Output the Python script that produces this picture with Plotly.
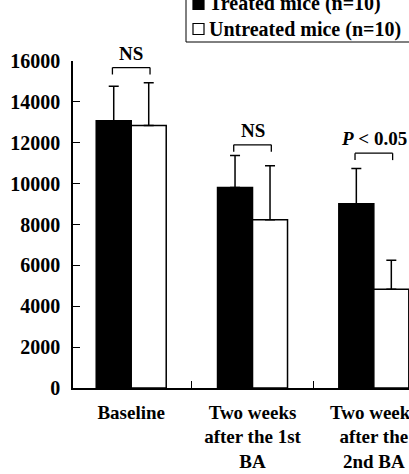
import plotly.graph_objects as go

# ---- data ----
categories = ["Baseline",
              "Two weeks<br>after the 1st<br>BA<br>injection",
              "Two weeks<br>after the<br>2nd BA<br>injection"]
treated = [13080, 9810, 9020]
treated_err = [1680, 1570, 1720]
untreated = [12840, 8230, 4830]
untreated_err = [2100, 2650, 1420]
series_names = ["Treated mice (n=10)", "Untreated mice (n=10)"]
sig_labels = ["NS", "NS", "<i>P</i> &lt; 0.05"]
bracket_levels = [15680, 11900, 11490]
y_ticks = [0, 2000, 4000, 6000, 8000, 10000, 12000, 14000, 16000]

FONT = "Times New Roman, Liberation Serif, serif"
W, H = 409, 474
ML, MR, MT, MB = 73, 0, 61, 86
PW, PH = W - ML - MR, H - MT - MB

def px_x(px):
    return (px - ML) / PW

def px_y(py):
    return (H - MB - py) / PH

fig = go.Figure()
fig.add_trace(go.Bar(
    x=categories, y=treated, name=series_names[0], showlegend=False,
    marker=dict(color="black", line=dict(color="black", width=1.5)),
    error_y=dict(type="data", symmetric=False, array=treated_err,
                 arrayminus=[0] * len(treated), color="black", thickness=1.5, width=5),
))
fig.add_trace(go.Bar(
    x=categories, y=untreated, name=series_names[1], showlegend=False,
    marker=dict(color="white", line=dict(color="black", width=1.5)),
    error_y=dict(type="data", symmetric=False, array=untreated_err,
                 arrayminus=[0] * len(untreated), color="black", thickness=1.5, width=5),
))

shapes = []
annotations = []
half = 0.155
leg = 340
for i, (lvl, lab) in enumerate(zip(bracket_levels, sig_labels)):
    line = dict(color="black", width=1.3)
    shapes.append(dict(type="line", xref="x", yref="y", x0=i - half, x1=i + half,
                       y0=lvl, y1=lvl, line=line))
    shapes.append(dict(type="line", xref="x", yref="y", x0=i - half, x1=i - half,
                       y0=lvl, y1=lvl - leg, line=line))
    shapes.append(dict(type="line", xref="x", yref="y", x0=i + half, x1=i + half,
                       y0=lvl, y1=lvl - leg, line=line))
    annotations.append(dict(x=i, y=lvl, xref="x", yref="y", text=lab, showarrow=False,
                            yanchor="bottom", yshift=2,
                            font=dict(family=FONT, size=19, color="black", weight="bold")))

# manual legend box (top right, partly cropped like the reference)
shapes.append(dict(type="rect", xref="paper", yref="paper",
                   x0=px_x(186), x1=px_x(430), y0=px_y(42), y1=px_y(-40),
                   line=dict(color="black", width=1), fillcolor="white", layer="above"))
legend_rows_py = [4, 29]
legend_fill = ["black", "white"]
for name, cy, fill in zip(series_names, legend_rows_py, legend_fill):
    shapes.append(dict(type="rect", xref="paper", yref="paper",
                       x0=px_x(193), x1=px_x(204), y0=px_y(cy + 5.5), y1=px_y(cy - 5.5),
                       line=dict(color="black", width=1.2), fillcolor=fill, layer="above"))
    annotations.append(dict(x=px_x(207), y=px_y(cy), xref="paper", yref="paper",
                            text=name, showarrow=False, xanchor="left", yanchor="middle",
                            font=dict(family=FONT, size=20, color="black", weight="bold")))

fig.update_layout(
    width=W, height=H,
    margin=dict(l=ML, r=MR, t=MT, b=MB, autoexpand=False),
    paper_bgcolor="white", plot_bgcolor="white",
    barmode="group", bargap=0.423, bargroupgap=0,
    showlegend=False,
    shapes=shapes, annotations=annotations,
    font=dict(family=FONT, color="black"),
)
fig.update_xaxes(
    type="category", range=[-0.48, 2.29], automargin=False,
    showline=True, linecolor="black", linewidth=1.5,
    ticks="inside", tickson="boundaries", ticklen=7, tickwidth=1.3, tickcolor="black",
    showgrid=False, zeroline=False, ticklabelstandoff=6,
    tickfont=dict(family=FONT, size=19, color="black", weight="bold"),
)
fig.update_yaxes(
    range=[0, 16000], tickvals=y_ticks, tickformat="d", automargin=False,
    showline=True, linecolor="black", linewidth=1.5,
    ticks="inside", ticklen=7, tickwidth=1.3, tickcolor="black",
    showgrid=False, zeroline=False, ticklabelstandoff=7,
    tickfont=dict(family=FONT, size=20, color="black", weight="bold"),
)

fig.write_html("out.html")
